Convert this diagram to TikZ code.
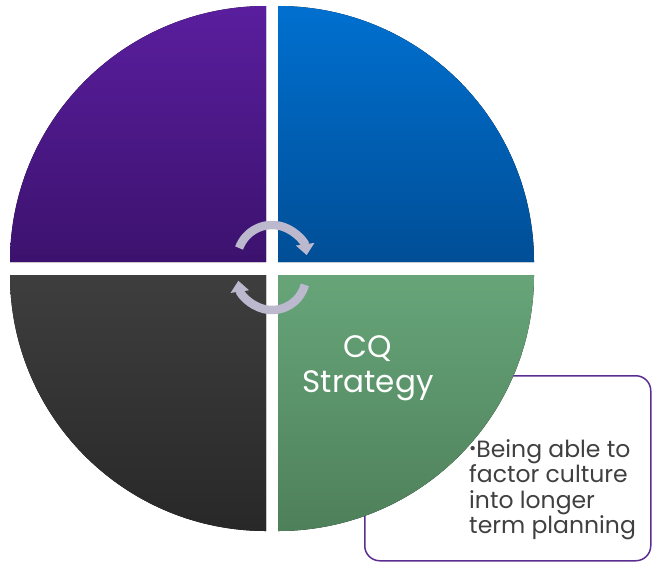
\documentclass[tikz,border=0pt]{standalone}
\usepackage{fontspec}
\setmainfont{Poppins}
\usetikzlibrary{positioning,arrows.meta}
\definecolor{colorpurpletop}  {RGB}{ 90, 30,158}
\definecolor{colorpurplebot}  {RGB}{ 60, 18,110}
\definecolor{colorbluetop}    {RGB}{  0,112,208}
\definecolor{colorbluebot}    {RGB}{  0, 78,150}
\definecolor{colorgreytop}    {RGB}{ 62, 62, 62}
\definecolor{colorgreybot}    {RGB}{ 40, 40, 40}
\definecolor{colorgreentop}   {RGB}{103,165,121}
\definecolor{colorgreenbot}   {RGB}{ 78,128, 90}
\definecolor{colorcycle}      {RGB}{188,184,206}
\definecolor{colornote}       {RGB}{ 92, 45,145}
\definecolor{colortext}       {RGB}{ 64, 64, 64}

\begin{document}
\begin{tikzpicture}[
    x=1pt, y=-1pt,
    quad/.style={draw=none},
    cyclearrow/.style={line width=8.5pt,draw=colorcycle,-{Triangle[width=18pt,length=11pt]}},
    note/.style={draw=colornote,line width=1.5pt,rounded corners=15pt,minimum width=286pt,minimum height=185pt,inner sep=0pt},
    basetext/.style={inner sep=0pt,align=left,text=colortext,font={\fontsize{23.5}{25.5}\selectfont}},
]
    \useasboundingbox (0,0) rectangle (652,562);

    \node[note,anchor=north west] (callout) at (364,375) {};

    % quadrants
    \fill[quad,top color=colorpurpletop,bottom color=colorpurplebot]
        (266,262) -- (10,262) arc[start angle=180,end angle=270,radius=256] -- cycle;
    \fill[quad,top color=colorbluetop,bottom color=colorbluebot]
        (278,262) -- (278,6) arc[start angle=270,end angle=360,radius=256] -- cycle;
    \fill[quad,top color=colorgreytop,bottom color=colorgreybot]
        (266,275) -- (266,531) arc[start angle=90,end angle=180,radius=256] -- cycle;
    \fill[quad,top color=colorgreentop,bottom color=colorgreenbot]
        (278,275) -- (534,275) arc[start angle=0,end angle=90,radius=256] -- cycle;

    \coordinate (hubtop) at (272,260);
    \coordinate (hubbot) at (272,276);

    \draw[cyclearrow] (hubtop) ++(-160:35) arc[start angle=-160,end angle=-8,radius=35];
    \draw[cyclearrow] (hubbot) ++(15:34) arc[start angle=15,end angle=172,radius=34];

    \node[text=white,align=center,inner sep=0pt,font={\fontsize{31}{35}\selectfont}] (cq) at (368,368) {CQ\\Strategy};

    \node[basetext,anchor=north west] (planning) at (469,439)
        {\raisebox{3pt}{\scalebox{0.75}{\textbullet}}Being able to\\factor culture\\into longer\\term planning};

\end{tikzpicture}
\end{document}
